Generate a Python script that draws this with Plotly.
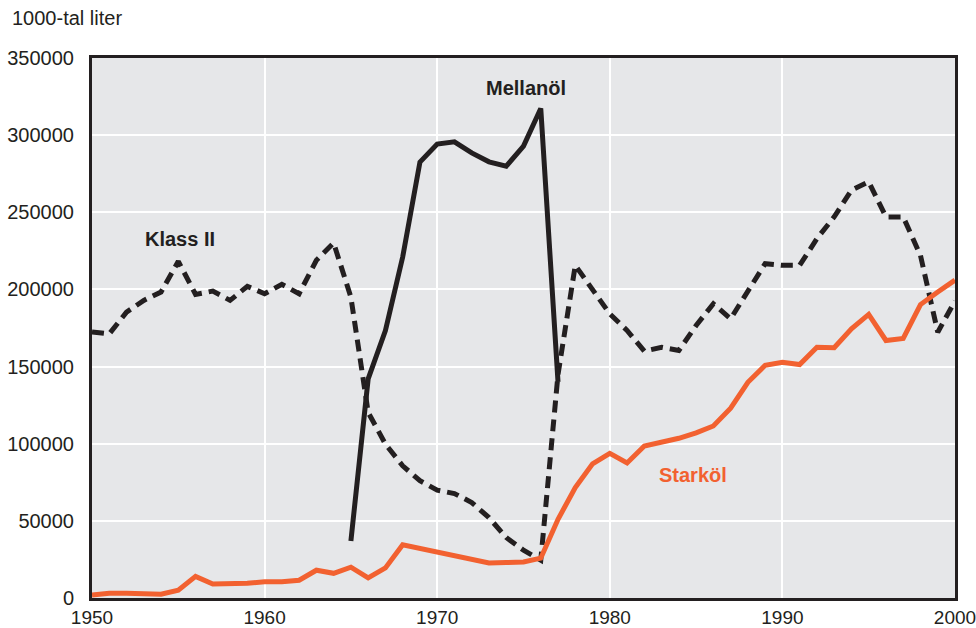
import plotly.graph_objects as go

years = list(range(1950, 2001))

starkol = [2000, 3000, 3000, 2500, 2500, 5000, 14000, 9000, 9000, 9500,
           10500, 10500, 11500, 18000, 16000, 20000, 13000, 19500, 34500, 32000,
           29500, 27000, 25300, 22700, 23000, 23400, 25800, 51000, 71600, 87000,
           93700, 87500, 98500, 101000, 103500, 107000, 111500, 123000, 139800, 150800,
           152800, 151300, 162500, 162200, 174500, 183800, 166900, 168200, 190200, 198300,
           206000]

klass2 = [172500, 171200, 185300, 192900, 198300, 218200, 196800, 198900, 192900, 202000,
          197200, 203300, 197200, 218900, 230100, 195000, 120300, 99800, 85700, 76000,
          69900, 67700, 61900, 52100, 39200, 31000, 24500, 145000, 215600, 199400,
          184200, 173400, 160000, 162500, 160400, 176600, 190700, 181000, 199400, 216700,
          215600, 215600, 232900, 247000, 264300, 269700, 247000, 247000, 222000, 172300,
          192500]

mellan_years = list(range(1965, 1978))
mellanol = [37000, 142000, 173400, 221000, 282500, 294200, 295700, 288500, 282700, 279900,
            292900, 317300, 140000]

x_ticks = [1950, 1960, 1970, 1980, 1990, 2000]
y_ticks = [0, 50000, 100000, 150000, 200000, 250000, 300000, 350000]

BLACK = "#231F20"
ORANGE = "#F26130"
FONT = "Liberation Sans, Arial, sans-serif"

fig = go.Figure()
fig.add_trace(go.Scatter(x=years, y=klass2, mode="lines", name="Klass II",
                         line=dict(color=BLACK, width=5, dash="12px,7px")))
fig.add_trace(go.Scatter(x=mellan_years, y=mellanol, mode="lines", name="Mellanöl",
                         line=dict(color=BLACK, width=5)))
fig.add_trace(go.Scatter(x=years, y=starkol, mode="lines", name="Starköl",
                         line=dict(color=ORANGE, width=5)))

ann_font = dict(family=FONT, size=20)
fig.add_annotation(x=1955.1, y=233000, text="<b>Klass II</b>", showarrow=False,
                   font=dict(**ann_font, color=BLACK))
fig.add_annotation(x=1975.15, y=330500, text="<b>Mellanöl</b>", showarrow=False,
                   font=dict(**ann_font, color=BLACK))
fig.add_annotation(x=1984.8, y=80000, text="<b>Starköl</b>", showarrow=False,
                   font=dict(**ann_font, color=ORANGE))
fig.add_annotation(xref="paper", yref="paper", x=-0.095, y=1.0741, xanchor="left",
                   yanchor="middle", text="1000-tal liter", showarrow=False,
                   font=dict(family=FONT, size=20, color=BLACK))

fig.update_layout(
    width=976, height=628,
    margin=dict(l=92, r=21, t=58, b=30, autoexpand=False),
    paper_bgcolor="white",
    plot_bgcolor="#E6E7E9",
    showlegend=False,
    font=dict(family=FONT, size=20, color=BLACK),
)
fig.update_xaxes(range=[1950, 2000], tickvals=x_ticks, ticktext=[str(v) for v in x_ticks],
                 tickfont=dict(size=19),
                 showgrid=True, gridcolor="white", gridwidth=1.5,
                 showline=True, linecolor=BLACK, linewidth=3, mirror=True,
                 ticks="", ticklabelstandoff=0, ticklabeloverflow="allow",
                 automargin=False, zeroline=False)
fig.update_yaxes(range=[0, 350000], tickvals=y_ticks, ticktext=[str(v) for v in y_ticks],
                 showgrid=True, gridcolor="white", gridwidth=1.5,
                 showline=True, linecolor=BLACK, linewidth=3, mirror=True,
                 ticks="", ticklabelstandoff=11, automargin=False, zeroline=False)

fig.write_html("out.html", config={"displayModeBar": False},
               post_script="document.body.style.margin='0';document.body.style.overflow='hidden';")
